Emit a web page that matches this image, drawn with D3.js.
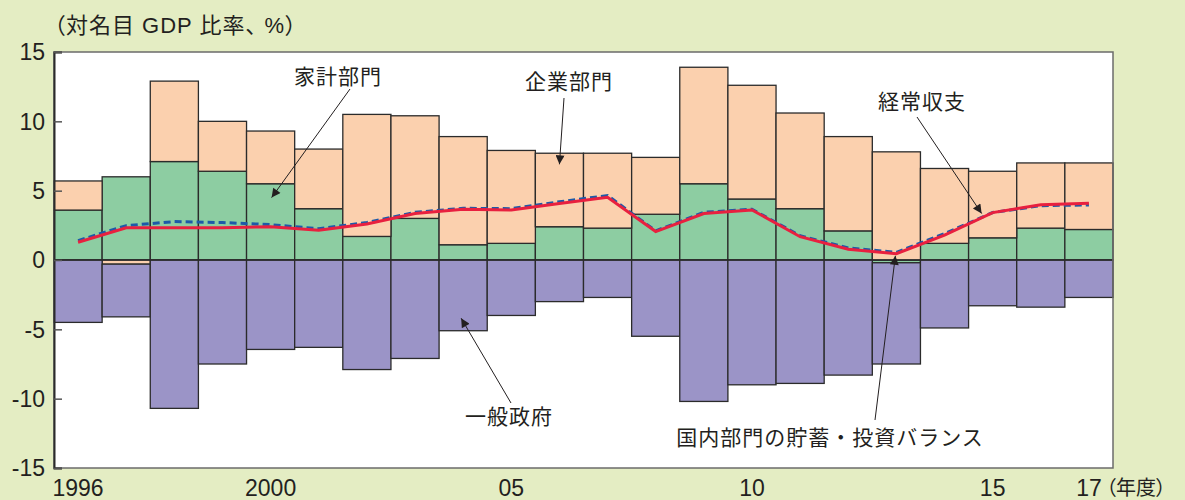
<!DOCTYPE html>
<html>
<head>
<meta charset="utf-8">
<script src="https://cdn.jsdelivr.net/npm/d3@7/dist/d3.min.js"></script>
<style>
  html, body { margin: 0; padding: 0; background: #e4edc3; }
  svg { display: block; }
  text { font-family: "Liberation Sans", "Noto Sans CJK JP", sans-serif; fill: #231f20; }
  .jp { font-family: "Noto Sans CJK JP", sans-serif; }
  .palt { font-feature-settings: "palt"; }
</style>
</head>
<body>
<div id="chart"></div>
<script>
// Fiscal years (1996-2017)
const years = d3.range(1996, 2018);
const yearLabels = { 1996: '1996', 2000: '2000', 2005: '05', 2010: '10', 2015: '15', 2017: '17' };

// Savings-investment balance by sector (% of nominal GDP)
const household  = [3.6, 6.0, 7.1, 6.4, 5.5, 3.7, 1.7, 3.0, 1.1, 1.2, 2.4, 2.3, 3.3, 5.5, 4.4, 3.7, 2.1, -0.2, 1.2, 1.6, 2.3, 2.2];
const corporate  = [2.1, -0.3, 5.8, 3.6, 3.8, 4.3, 8.8, 7.4, 7.8, 6.7, 5.3, 5.4, 4.1, 8.4, 8.2, 6.9, 6.8, 7.8, 5.4, 4.8, 4.7, 4.8];
const government = [-4.5, -3.8, -10.7, -7.5, -6.45, -6.3, -7.9, -7.1, -5.1, -4.0, -3.0, -2.7, -5.5, -10.2, -9.0, -8.9, -8.3, -7.3, -4.9, -3.3, -3.4, -2.7];

// Lines
const currentAccount  = [1.4, 2.48, 2.77, 2.7, 2.55, 2.26, 2.7, 3.44, 3.73, 3.7, 4.2, 4.65, 2.1, 3.44, 3.66, 1.75, 0.87, 0.55, 1.9, 3.42, 3.92, 3.97];
const domesticBalance = [1.28, 2.33, 2.33, 2.33, 2.4, 2.14, 2.6, 3.35, 3.66, 3.61, 4.07, 4.52, 2.05, 3.35, 3.61, 1.68, 0.77, 0.46, 1.8, 3.42, 3.99, 4.09];

const yTicks = [-15, -10, -5, 0, 5, 10, 15];

const width = 1185, height = 500;
const margin = { top: 52, right: 72, bottom: 32, left: 54 };

const svg = d3.select('#chart').append('svg')
    .attr('width', width)
    .attr('height', height);

svg.append('rect')
    .attr('width', width)
    .attr('height', height)
    .attr('fill', '#e4edc3');

const x = d3.scaleBand()
    .domain(years)
    .range([margin.left, width - margin.right])
    .padding(0);

const y = d3.scaleLinear()
    .domain([-15, 15])
    .range([height - margin.bottom, margin.top]);

// plot background
svg.append('rect')
    .attr('x', margin.left)
    .attr('y', margin.top)
    .attr('width', width - margin.left - margin.right)
    .attr('height', height - margin.top - margin.bottom)
    .attr('fill', '#fff');

// Stack: household, corporate, government
const table = years.map((yr, i) => ({
    year: yr,
    household: household[i],
    corporate: corporate[i],
    government: government[i]
}));

const stack = d3.stack()
    .keys(['household', 'corporate', 'government'])
    .offset(d3.stackOffsetDiverging);

const colors = { household: '#8dcda2', corporate: '#fbd0ae', government: '#9b94c7' };

svg.append('g')
    .selectAll('g')
    .data(stack(table))
    .join('g')
    .attr('fill', d => colors[d.key])
    .selectAll('rect')
    .data(d => d)
    .join('rect')
    .attr('x', d => x(d.data.year))
    .attr('y', d => y(Math.max(d[0], d[1])))
    .attr('width', x.bandwidth())
    .attr('height', d => Math.abs(y(d[0]) - y(d[1])))
    .attr('stroke', '#2b2b2b')
    .attr('stroke-width', 1.3);

// zero line
svg.append('line')
    .attr('x1', margin.left)
    .attr('x2', width - margin.right)
    .attr('y1', y(0))
    .attr('y2', y(0))
    .attr('stroke', '#2b2b2b')
    .attr('stroke-width', 1.5);

// lines
const line = d3.line()
    .x((d, i) => x(years[i]) + x.bandwidth() / 2)
    .y(d => y(d));

svg.append('path')
    .datum(currentAccount)
    .attr('d', line)
    .attr('fill', 'none')
    .attr('stroke', '#1d5aa8')
    .attr('stroke-width', 3)
    .attr('stroke-dasharray', '7,4');

svg.append('path')
    .datum(domesticBalance)
    .attr('d', line)
    .attr('fill', 'none')
    .attr('stroke', '#e8203f')
    .attr('stroke-width', 3);

// frame
svg.append('rect')
    .attr('x', margin.left)
    .attr('y', margin.top)
    .attr('width', width - margin.left - margin.right)
    .attr('height', height - margin.top - margin.bottom)
    .attr('fill', 'none')
    .attr('stroke', '#6b6b6b')
    .attr('stroke-width', 1.5);

// y axis (ticks pointing inward)
const yG = svg.append('g')
    .attr('transform', `translate(${margin.left},0)`)
    .call(d3.axisRight(y).tickValues(yTicks).tickSize(8).tickFormat(''));
yG.select('.domain').attr('stroke', '#2b2b2b').attr('stroke-width', 2);
yG.selectAll('.tick line').attr('stroke', '#555').attr('stroke-width', 1.5);

svg.append('g')
    .selectAll('text')
    .data(yTicks)
    .join('text')
    .attr('x', 45)
    .attr('y', d => y(d))
    .attr('dy', '0.36em')
    .attr('text-anchor', 'end')
    .style('font-size', '23px')
    .text(d => d);

// x labels
svg.append('g')
    .selectAll('text')
    .data(years.filter(yr => yearLabels[yr]))
    .join('text')
    .attr('x', d => x(d) + x.bandwidth() / 2)
    .attr('y', 488)
    .attr('dy', '0.36em')
    .attr('text-anchor', 'middle')
    .style('font-size', '23px')
    .text(d => yearLabels[d]);

svg.append('text')
    .attr('class', 'jp palt')
    .attr('x', 1106)
    .attr('y', 488)
    .attr('dy', '0.36em')
    .style('font-size', '20px')
    .text('（年度）');

// title
svg.append('text')
    .attr('class', 'palt')
    .attr('x', 54)
    .attr('y', 25)
    .attr('dy', '0.36em')
    .style('font-size', '22px')
    .style('letter-spacing', '1px')
    .text('（対名目 GDP 比率、 %）');

// annotations: label position in px, arrow tip in data units (dx nudges within the bar)
const annotations = [
    { text: '家計部門', lx: 338, ly: 76, ax: 350, ay: 89, year: 2000, dx: 1, value: 4.5 },
    { text: '企業部門', lx: 569, ly: 81, ax: 564, ay: 98, year: 2006, dx: 0, value: 6.9 },
    { text: '経常収支', lx: 922, ly: 101, ax: 917, ay: 117, year: 2015, dx: -11, value: 3.35 },
    { text: '一般政府', lx: 509, ly: 416, ax: 511, ay: 403, year: 2004, dx: -2, value: -4.2 },
    { text: '国内部門の貯蓄・投資バランス', lx: 830, ly: 437, ax: 875, ay: 420, year: 2013, dx: -1, value: 0.3 }
];

const marker = svg.append('defs').append('marker')
    .attr('id', 'arrow')
    .attr('viewBox', '0 0 10 10')
    .attr('refX', 10)
    .attr('refY', 5)
    .attr('markerWidth', 12)
    .attr('markerHeight', 9)
    .attr('markerUnits', 'userSpaceOnUse')
    .attr('orient', 'auto');
marker.append('path')
    .attr('d', 'M0,0L10,5L0,10Z')
    .attr('fill', '#231f20');

const ann = svg.append('g');
ann.selectAll('line')
    .data(annotations)
    .join('line')
    .attr('x1', d => d.ax)
    .attr('y1', d => d.ay)
    .attr('x2', d => x(d.year) + x.bandwidth() / 2 + d.dx)
    .attr('y2', d => y(d.value))
    .attr('stroke', '#231f20')
    .attr('stroke-width', 1)
    .attr('marker-end', 'url(#arrow)');

ann.selectAll('text')
    .data(annotations)
    .join('text')
    .attr('class', 'jp')
    .attr('x', d => d.lx)
    .attr('y', d => d.ly)
    .attr('dy', '0.36em')
    .attr('text-anchor', 'middle')
    .style('font-size', '21px')
    .style('letter-spacing', '1px')
    .text(d => d.text);
</script>
</body>
</html>
